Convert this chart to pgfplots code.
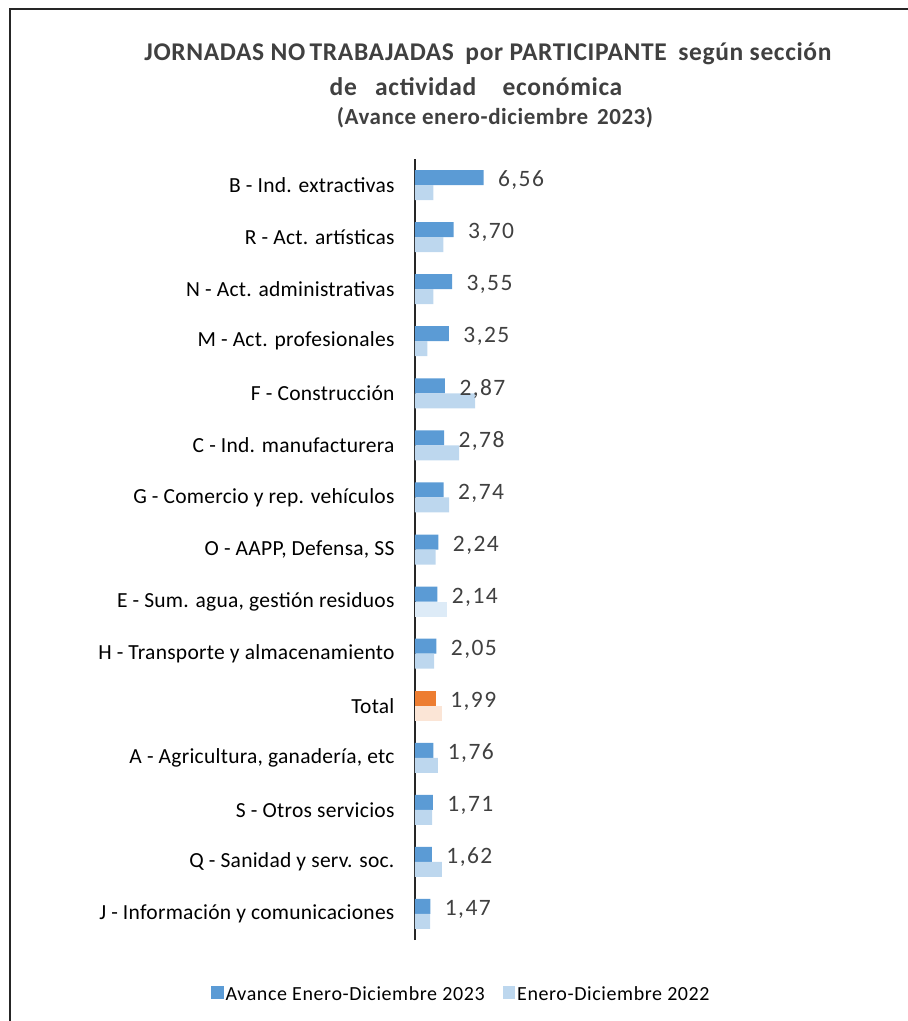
\documentclass[border=0pt]{standalone}
\usepackage{fontspec}
\setmainfont{Carlito}
\usepackage{pgfplots}
\pgfplotsset{compat=1.18}
\definecolor{azul23}{HTML}{5B9BD5}
\definecolor{azul22}{HTML}{BDD7EE}
\definecolor{azulE}{HTML}{DDEBF7}
\definecolor{naranja}{HTML}{ED7D31}
\definecolor{melocoton}{HTML}{FBE5D6}
\definecolor{texto}{HTML}{404040}
\newfontfamily\titulo[LetterSpace=2.5]{Carlito}
\newfontfamily\cat[LetterSpace=1.2]{Carlito}
\newfontfamily\dato[LetterSpace=6]{Carlito}
\newfontfamily\leyenda[LetterSpace=3]{Carlito}

\begin{document}
\begin{tikzpicture}[x=1pt,y=1pt]
\path[use as bounding box] (0,0) rectangle (908,-1021);
\draw[line width=1.6pt, black!85] (10,-1021) -- (10,-9) -- (908,-9);
\node[font=\titulo\bfseries\fontsize{25.5}{29}\selectfont, text=texto] at (488,-54) {JORNADAS NO\hspace{-2pt} TRABAJADAS\hspace{5pt} por PARTICIPANTE\hspace{5pt} según sección};
\node[font=\titulo\bfseries\fontsize{25.5}{29}\selectfont, text=texto] at (476,-87) {de\hspace{12pt} actividad\hspace{20pt} económica};
\node[font=\titulo\bfseries\fontsize{23}{27}\selectfont, text=texto] at (495,-118) {(Avance enero-diciembre\hspace{3pt} 2023)};

\begin{axis}[
    at={(415pt,-940pt)}, anchor=south west,
    scale only axis,
    width=464pt, height=781pt,
    xbar,
    bar width=15pt,
    xmin=0, xmax=44.4,
    ymin=-0.5, ymax=14.5,
    axis x line=none,
    axis y line*=left,
    y axis line style={line width=1.6pt, black!85},
    ytick={0,...,14},
    yticklabels={J - Información y comunicaciones, Q - Sanidad y serv. soc., S - Otros servicios, {A - Agricultura, ganadería, etc}, Total, H - Transporte y almacenamiento, {E - Sum. agua, gestión residuos}, {O - AAPP, Defensa, SS}, G - Comercio y rep. vehículos, C - Ind. manufacturera, F - Construcción, M - Act. profesionales, N - Act. administrativas, R - Act. artísticas, B - Ind. extractivas},
    major tick length=0pt,
    yticklabel style={font=\cat\fontsize{21.5}{24}\selectfont, text=black, xshift=-17pt},
    legend style={at={(0.1,-0.069)}, anchor=center, draw=none, legend columns=2,
        font=\leyenda\fontsize{20}{23}\selectfont, text=black,
        /tikz/every even column/.append style={column sep=16pt}},
    legend image code/.code={\fill[#1] (-2pt,-5pt) rectangle (10.5pt,7.5pt);},
    lbl/.style={nodes near coords, point meta=x,
        nodes near coords style={font=\dato\fontsize{23.5}{26}\selectfont, text=texto, anchor=west, xshift=11pt, yshift=-3pt,
            /pgf/number format/.cd, fixed, fixed zerofill, precision=2, use comma, assume math mode=true}},
]
% 2023 (sin Total)
\addplot[fill=azul23, draw=none, bar shift=7.5pt, lbl] coordinates {
    (6.56,14) (3.70,13) (3.55,12) (3.25,11) (2.87,10) (2.78,9) (2.74,8)
    (2.24,7) (2.14,6) (2.05,5) (1.76,3) (1.71,2) (1.62,1) (1.47,0)};
\addlegendentry{Avance Enero-Diciembre 2023}
% 2022 (sin Total ni E)
\addplot[fill=azul22, draw=none, bar shift=-7.5pt] coordinates {
    (1.76,14) (2.72,13) (1.76,12) (1.19,11) (5.76,10) (4.22,9) (3.26,8)
    (1.98,7) (1.82,5) (2.20,3) (1.63,2) (2.56,1) (1.44,0)};
\addlegendentry{Enero-Diciembre 2022}
% E - 2022, tono más claro
\addplot[fill=azulE, draw=none, bar shift=-7.5pt, forget plot] coordinates {(3.04,6)};
% Total
\addplot[fill=naranja, draw=none, bar shift=7.5pt, lbl, forget plot] coordinates {(1.99,4)};
\addplot[fill=melocoton, draw=none, bar shift=-7.5pt, forget plot] coordinates {(2.56,4)};
\end{axis}
\end{tikzpicture}
\end{document}
